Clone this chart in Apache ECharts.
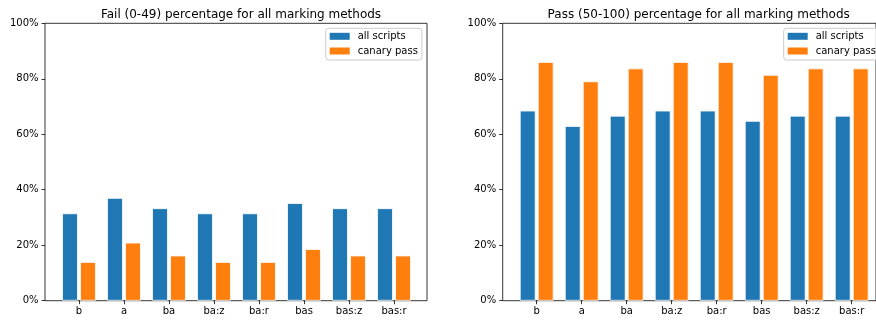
<!DOCTYPE html>
<html>
<head>
<meta charset="utf-8">
<script src="https://cdn.jsdelivr.net/npm/echarts@6/dist/echarts.min.js"></script>
<style>
  html, body { margin: 0; padding: 0; background: #fff; }
  #chart { width: 876px; height: 320px; }
</style>
</head>
<body>
<div id="chart"></div>
<script>
// Marking methods along the x axis
const categories = ['b', 'a', 'ba', 'ba:z', 'ba:r', 'bas', 'bas:z', 'bas:r'];

// Fail (0-49) share, in percent
const failAllScripts = [31.48, 37.04, 33.33, 31.48, 31.48, 35.19, 33.33, 33.33];
const failCanaryPass = [13.95, 20.93, 16.28, 13.95, 13.95, 18.60, 16.28, 16.28];

// Pass (50-100) share, in percent
const passAllScripts = [68.52, 62.96, 66.67, 68.52, 68.52, 64.81, 66.67, 66.67];
const passCanaryPass = [86.05, 79.07, 83.72, 86.05, 86.05, 81.40, 83.72, 83.72];

const seriesNames = ['all scripts', 'canary pass'];
const yTicks = [0, 20, 40, 60, 80, 100];

const FONT = 'DejaVu Sans';
const BLUE = '#1f77b4';
const ORANGE = '#ff7f0e';

const chart = echarts.init(document.getElementById('chart'), null, { renderer: 'canvas' });

// Panel geometry: an outer frame grid (spines + y axis) and an inner data grid
const panels = [
  { title: 'Fail (0-49) percentage for all marking methods', frameLeft: 45, dataLeft: 56.5, legendLeft: 325.7,
    values: [failAllScripts, failCanaryPass] },
  { title: 'Pass (50-100) percentage for all marking methods', frameLeft: 502.7, dataLeft: 514.2, legendLeft: 783.7,
    values: [passAllScripts, passCanaryPass] }
];
const FRAME_W = 382, DATA_W = 360, TOP = 23.3, BOTTOM = 19.3;
const BAND = DATA_W / categories.length;
const BAR_W = BAND * 0.35;

const grid = [], xAxis = [], yAxis = [], series = [], title = [], legend = [];

panels.forEach((p) => {
  const fi = grid.length;
  grid.push({ left: p.frameLeft, width: FRAME_W, top: TOP, bottom: BOTTOM,
    show: true, borderColor: '#000', borderWidth: 0.8, backgroundColor: 'transparent' });
  const di = grid.length;
  grid.push({ left: p.dataLeft, width: DATA_W, top: TOP, bottom: BOTTOM });

  xAxis.push({ gridIndex: fi, type: 'value', show: false, min: 0, max: 1 });
  yAxis.push({ gridIndex: fi, type: 'value', min: yTicks[0], max: yTicks[yTicks.length - 1],
    interval: yTicks[1] - yTicks[0],
    axisLine: { show: false }, splitLine: { show: false },
    axisTick: { show: true, inside: false, length: 3.5, lineStyle: { color: '#000', width: 0.8 } },
    axisLabel: { formatter: '{value}%', color: '#000', fontFamily: FONT, fontSize: 10, margin: 6.5 } });

  xAxis.push({ gridIndex: di, type: 'category', data: categories, boundaryGap: true,
    axisLine: { show: false }, splitLine: { show: false },
    axisTick: { show: true, alignWithLabel: true, inside: false, length: 3.5, lineStyle: { color: '#000', width: 0.8 } },
    axisLabel: { color: '#000', fontFamily: FONT, fontSize: 10, margin: 6, interval: 0 } });
  yAxis.push({ gridIndex: di, type: 'value', min: 0, max: 100, show: false });

  const xi = xAxis.length - 1, yi = yAxis.length - 1;
  [BLUE, ORANGE].forEach((c, s) => {
    series.push({ type: 'bar', name: seriesNames[s], xAxisIndex: xi, yAxisIndex: yi,
      data: p.values[s], barWidth: BAR_W, barGap: '14.3%',
      itemStyle: { color: c, borderColor: '#fff', borderWidth: 0.8 },
      emphasis: { disabled: true }, animation: false });
  });

  title.push({ text: p.title, left: p.frameLeft + FRAME_W / 2, top: 4, textAlign: 'center',
    textStyle: { fontFamily: FONT, fontSize: 12, fontWeight: 'normal', color: '#000' } });

  legend.push({ data: seriesNames, orient: 'vertical', left: p.legendLeft, top: 28.3,
    padding: [2, 4, 3, 4], itemGap: 2.7, itemWidth: 20, itemHeight: 7, icon: 'rect',
    backgroundColor: 'rgba(255,255,255,0.8)', borderColor: '#ccc', borderWidth: 1, borderRadius: 3,
    selectedMode: false,
    itemStyle: { borderWidth: 0 },
    textStyle: { fontFamily: FONT, fontSize: 10, lineHeight: 12, color: '#000', padding: [0, 0, 0, 3] } });
});

chart.setOption({ animation: false, title, legend, grid, xAxis, yAxis, series });
</script>
</body>
</html>
